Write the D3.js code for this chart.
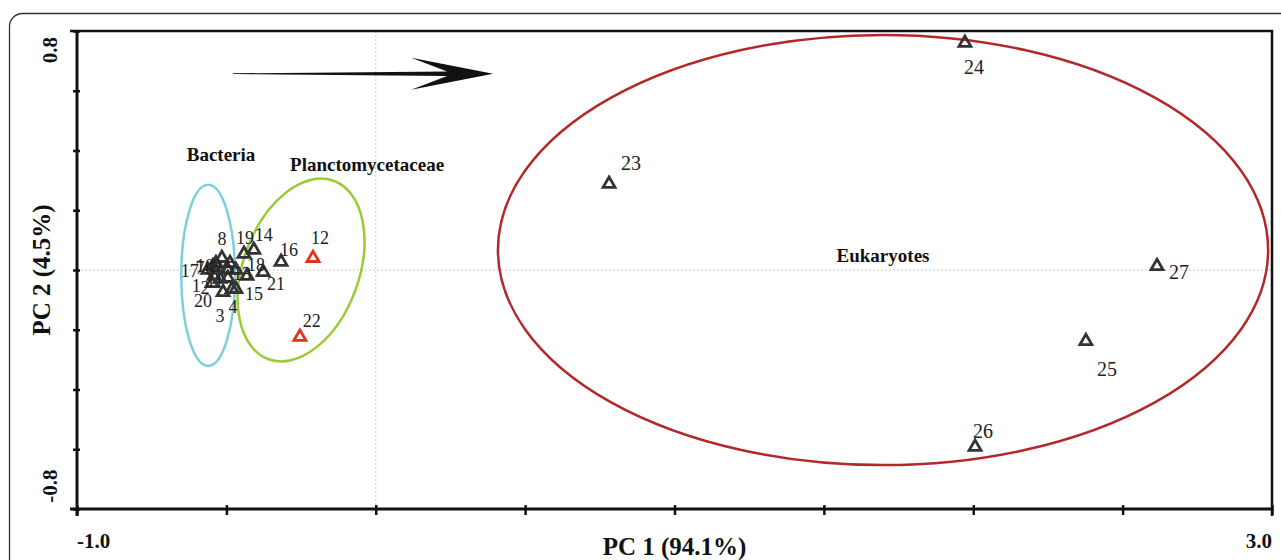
<!DOCTYPE html>
<html>
<head>
<meta charset="utf-8">
<script src="https://cdn.jsdelivr.net/npm/d3@7"></script>
<style>
  body { margin: 0; background: #fff; }
  svg { display: block; font-family: "Liberation Serif", "Times New Roman", serif; }
</style>
</head>
<body>
<div id="chart-area"></div>
<script>
// PCA scores
var ids = [1, 2, 3, 4, 5, 6, 7, 8, 9, 10, 11, 12, 13, 14, 15, 16, 17, 18, 19, 20, 21, 22, 23, 24, 25, 26, 27];
var pc1 = [-0.541, -0.521, -0.511, -0.481, -0.495, -0.528, -0.545, -0.515, -0.488, -0.535, -0.495, -0.210, -0.468, -0.408,
  -0.468, -0.317, -0.562, -0.431, -0.441, -0.548, -0.377, -0.254, 0.781, 1.972, 2.377, 2.006, 2.615];
var pc2 = [-0.020, -0.030, -0.074, -0.064, 0.000, 0.007, 0.013, 0.040, 0.023, 0.023, -0.027, 0.040, 0.000, 0.067,
  -0.064, 0.027, 0.000, -0.020, 0.054, -0.044, -0.007, -0.224, 0.288, 0.760, -0.238, -0.592, 0.013];
var redIds = [12, 22];

// label placement (pixels from the marker)
var labelOffsets = [[-18, 10], [-15, 9], [-3, 24], [1, 18], [2, -2], [-8, 2], [-13, 2], [0, -19], [-13, 3], [-11, 3],
  [-13, 3], [7, -20], [6, 4], [10, -15], [18, 5], [8, -12], [-18, 1], [9, -11], [1, -16], [-9, 18], [13, 12],
  [12, -16], [22, -21], [9, 24], [21, 28], [8, -16], [22, 6]];

var xTicks = [-1.0, -0.5, 0, 0.5, 1.0, 1.5, 2.0, 2.5, 3.0];
var yTicks = [-0.8, -0.6, -0.4, -0.2, 0, 0.2, 0.4, 0.6, 0.8];

// groups: centre, radii (data units), rotation
var groupNames = ["Bacteria", "Planctomycetaceae", "Eukaryotes"];
var groupCx = [-0.561, -0.250, 1.698];
var groupCy = [-0.018, 0.000, 0.067];
var groupRx = [0.090, 0.194, 1.289];
var groupRy = [0.303, 0.318, 0.720];
var groupRot = [0, 20, 0];
var groupColors = ["#7dcfe0", "#99cc33", "#b3282a"];
var groupLabelX = [-0.518, -0.029, 1.698];
var groupLabelY = [0.365, 0.330, 0.027];

var arrowFrom = [-0.478, 0.657];
var arrowTo = [0.393, 0.657];

const width = 1281, height = 560;
const svg = d3.select("#chart-area").append("svg")
  .attr("width", width).attr("height", height);

// outer rounded frame
svg.append("rect")
  .attr("x", 9.5).attr("y", 13.5)
  .attr("width", 1300).attr("height", 600)
  .attr("rx", 13)
  .attr("fill", "none").attr("stroke", "#333").attr("stroke-width", 1.3);

const x = d3.scaleLinear().domain([-1, 3]).range([77, 1272]);
const y = d3.scaleLinear().domain([-0.8, 0.8]).range([509, 31]);

// zero reference lines
svg.append("line")
  .attr("x1", x(0)).attr("x2", x(0)).attr("y1", y(0.8)).attr("y2", y(-0.8))
  .attr("stroke", "#c8c8c8").attr("stroke-dasharray", "2,2");
svg.append("line")
  .attr("x1", x(-1)).attr("x2", x(3)).attr("y1", y(0)).attr("y2", y(0))
  .attr("stroke", "#c8c8c8").attr("stroke-dasharray", "2,2");

// top and right frame of the plot
svg.append("path")
  .attr("d", `M${x(-1) - 7},${y(0.8)} H${x(3)} V${y(-0.8) + 7}`)
  .attr("fill", "none").attr("stroke", "#111").attr("stroke-width", 2.5);

// axes
const xAxisGroup = svg.append("g").attr("transform", `translate(0,${y(-0.8)})`);
const yAxisGroup = svg.append("g").attr("transform", `translate(${x(-1)},0)`);

xAxisGroup.call(d3.axisBottom(x).tickValues(xTicks).tickSizeInner(6).tickSizeOuter(0).tickFormat(""));
yAxisGroup.call(d3.axisLeft(y).tickValues(yTicks).tickSizeInner(4).tickSizeOuter(0).tickFormat(""));

xAxisGroup.select(".domain").attr("stroke", "#111").attr("stroke-width", 3)
  .attr("d", `M${x(-1) - 7},0H${x(3)}`);
yAxisGroup.select(".domain").attr("stroke", "#111").attr("stroke-width", 3)
  .attr("d", `M0,${y(0.8)}V${y(-0.8) + 7}`);
xAxisGroup.selectAll(".tick line").attr("stroke", "#111").attr("stroke-width", 2.5).attr("y1", -4);
yAxisGroup.selectAll(".tick line").attr("stroke", "#111").attr("stroke-width", 2.5).attr("x1", 3);

// end tick labels only
svg.append("text").text("-1.0")
  .attr("x", x(-1)).attr("y", 548)
  .attr("font-size", 21).attr("font-weight", "bold").attr("fill", "#111");
svg.append("text").text("3.0")
  .attr("x", x(3)).attr("y", 548).attr("text-anchor", "end")
  .attr("font-size", 21).attr("font-weight", "bold").attr("fill", "#111");
svg.append("text").text("0.8")
  .attr("transform", `translate(57,${y(0.8) + 19}) rotate(-90)`)
  .attr("text-anchor", "middle")
  .attr("font-size", 21).attr("font-weight", "bold").attr("fill", "#111");
svg.append("text").text("-0.8")
  .attr("transform", `translate(57,${y(-0.8) - 23}) rotate(-90)`)
  .attr("text-anchor", "middle")
  .attr("font-size", 21).attr("font-weight", "bold").attr("fill", "#111");

// axis titles
svg.append("text").text("PC 1 (94.1%)")
  .attr("x", x(1)).attr("y", 555).attr("text-anchor", "middle")
  .attr("font-size", 25).attr("font-weight", "bold").attr("fill", "#111");
svg.append("text").text("PC 2 (4.5%)")
  .attr("transform", `translate(50,${y(0)}) rotate(-90)`)
  .attr("text-anchor", "middle")
  .attr("font-size", 25).attr("font-weight", "bold").attr("fill", "#111");

// group ellipses
const groups = groupNames.map((g, i) => ({
  name: g, cx: groupCx[i], cy: groupCy[i], rx: groupRx[i], ry: groupRy[i],
  rot: groupRot[i], color: groupColors[i], lx: groupLabelX[i], ly: groupLabelY[i]
}));

svg.selectAll(".group").data(groups).enter()
  .append("ellipse")
  .attr("class", "group")
  .attr("cx", 0).attr("cy", 0)
  .attr("rx", d => x(d.rx) - x(0))
  .attr("ry", d => y(0) - y(d.ry))
  .attr("transform", d => `translate(${x(d.cx)},${y(d.cy)}) rotate(${d.rot})`)
  .attr("fill", "none")
  .attr("stroke", d => d.color)
  .attr("stroke-width", 2.5);

svg.selectAll(".group-label").data(groups).enter()
  .append("text")
  .attr("class", "group-label")
  .attr("x", d => x(d.lx)).attr("y", d => y(d.ly))
  .attr("text-anchor", "middle")
  .attr("font-size", 19).attr("font-weight", "bold").attr("fill", "#111")
  .text(d => d.name);

// loading arrow
const ax0 = x(arrowFrom[0]), ay = y(arrowFrom[1]), ax1 = x(arrowTo[0]);
svg.append("path")
  .attr("d", `M${ax0},${ay - 0.4} L${ax1 - 46},${ay - 2.3} L${ax1 - 82},${ay - 16} L${ax1},${ay}
    L${ax1 - 82},${ay + 16} L${ax1 - 46},${ay + 2.3} L${ax0},${ay + 0.4} Z`)
  .attr("fill", "#111");

// points
const points = ids.map((id, i) => ({
  id: id, pc1: pc1[i], pc2: pc2[i], dx: labelOffsets[i][0], dy: labelOffsets[i][1],
  red: redIds.indexOf(id) >= 0
}));

const tri = d3.symbol().type(d3.symbolTriangle).size(62);

svg.selectAll(".pt").data(points).enter()
  .append("path")
  .attr("class", "pt")
  .attr("d", tri)
  .attr("transform", d => `translate(${x(d.pc1)},${y(d.pc2)})`)
  .attr("fill", "none")
  .attr("stroke", d => d.red ? "#e3301f" : "#333")
  .attr("stroke-width", 2.8);

svg.selectAll(".pt-label").data(points).enter()
  .append("text")
  .attr("class", "pt-label")
  .attr("x", d => x(d.pc1) + d.dx)
  .attr("y", d => y(d.pc2) + d.dy)
  .attr("text-anchor", "middle")
  .attr("dominant-baseline", "central")
  .attr("font-size", d => d.pc1 > 0.5 ? 20 : 18)
  .attr("fill", "#222")
  .text(d => d.id);
</script>
</body>
</html>
